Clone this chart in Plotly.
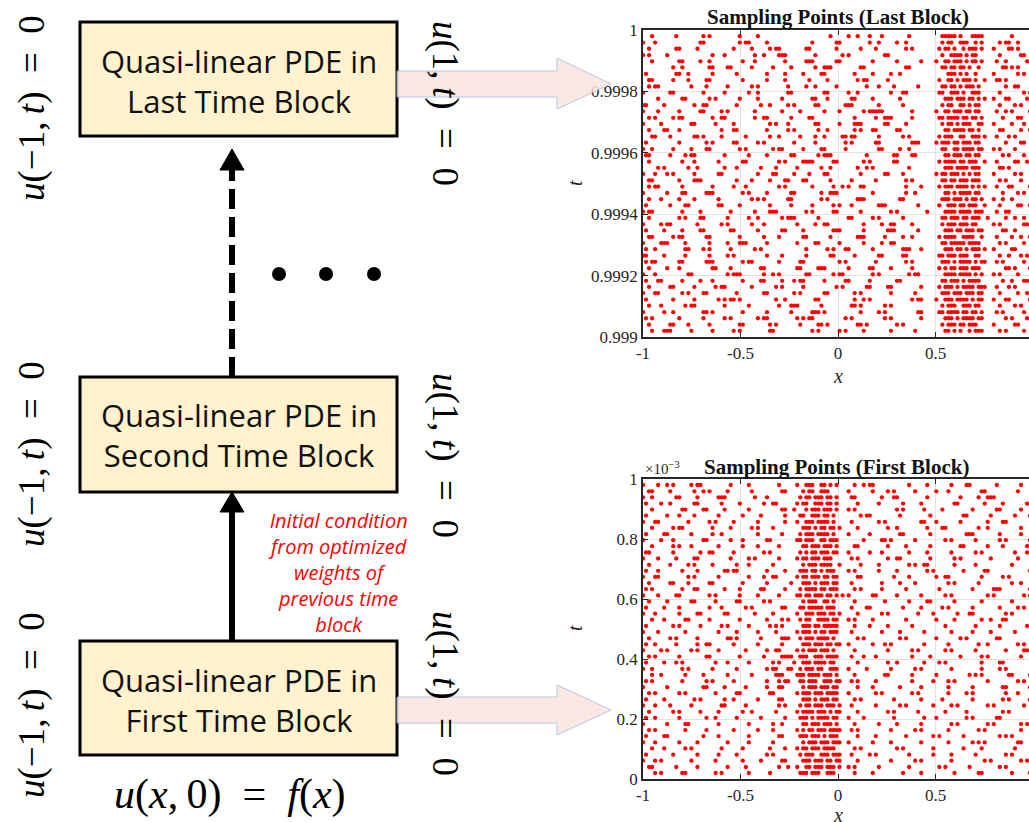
import plotly.graph_objects as go

W, H = 1029, 822

# ---------------- data ----------------
# sampling-grid row levels (top -> bottom), offset inside a block, in units of 1e-3
ROW_OFFSETS = [0.980, 0.959, 0.939, 0.918, 0.898, 0.878, 0.857, 0.837, 0.816, 0.796,
               0.776, 0.755, 0.735, 0.714, 0.694, 0.674, 0.653, 0.633, 0.612, 0.592,
               0.571, 0.551, 0.531, 0.510, 0.490, 0.469, 0.449, 0.429, 0.408, 0.388,
               0.367, 0.347, 0.326, 0.306, 0.286, 0.265, 0.245, 0.224, 0.204, 0.183,
               0.163, 0.143, 0.122, 0.102, 0.081, 0.061, 0.040, 0.020]
N_COLS = 130  # x grid columns over [-1, 1]

# Last block: row masks, split as columns 0-96 | 97-115 | 116-129
LAST_LEFT = [
"...o.......o........o.o.........o.....o.......................o.....o..o...o...o........o.......",
"o...o..............oo...........o.oo.....o..............o.......oo.........o..o.....o..o.......",
"..o........oo.....o...........o.....o.....o.oo........oo........o.......o....o.........o.o.....",
"o.o.....o..............o...o.........o..o....ooo.........o........o.o...........oo..............",
"...o........oo.....o..o..........o...o.........o......ooo.......oo..........o.......o.......o...",
"..........o..o........oo....oo......o......o.....o.......o..ooo.........oo.............oo.......",
".o.........oo..o.......o.......o.........o.....o.....o.....oo.........o.....o.....o..o..........",
"..oo......o....o.....oo..........o.......o.....o.......o.....o.........o.oo......o..............",
"..o.oo..........o....o......o.......o.o.........o.....o..o......o.........o...o....o.......o....",
"o........oo.........o......o.......o..o.........oo..........oo......o..o..........o...oo........",
".....o.......oo.......o.o.......o.....o.......o.........oo...o.......oo.....o........o..........",
"oo.....o.........o..oo.........o.......o..o.....o.o......oo........ooo........o.......o.........",
"o....o......o......oo.....o.o........o........o.....o.......o....o.......o.ooooo.........o......",
"..o.o.....o.oo.........o..oo.........o..oo.......o.....oo.............o......o..ooo......o......",
"o.....o.........oo......o.....o...........o.o...o........oo......o....ooo.......oo.....o........",
"..o....oo...o.............o...oo.........o......o.o.......o..o........o.o...oo......oo..........",
"...oo....o.......oo.o.....o.......o.......o..o......o....o..o.....oo.oo.......o.......o.o......",
".o..........o........o.o......oo......o.o.........o......o.........o.o.......oo..........ooo....",
"o..o......o.....o....oo.........o.o........o.oo......o.....oo......o..........oo.....o..o.......",
".oo......o....o.oo.........o.......o.....o.......oo.......o.ooo...........o........oo....oo.....",
"..o..........o...o.......o.......oo..........o.o.....oooo......oo........o.o.......oo...........",
".....o.o.......o..o........o...o.......o....o......o.......o..o........o..o.o...........o.......",
"o...o...o.o......o.......oo...........o....oo.....o....o....oo..........o.......oo....o.........",
"..oo........o....ooo...........o....o.....o....oo....oo.......o......o.......o.........o.o......",
"..o.oo.......o.........o......o...o..........o.o........o......o..o.o...oo.............o....o...",
"o.......o....oo......ooo.........o.o.....o.......oo........o..ooo...........o..........o..o.....",
"..o...o.....o....o.......o..........o.o.o.......oo.........o.o.........ooo...........oo.........",
".o.......o....oo.........oo.....o.........o......o......o......o.o...o........ooo..........o....",
"o.oo.........o.....o.........o.......o....ooo.........o.o......oo.......o.........o.o.........o.",
"..o.........o.o....oo.......o......o..o.......o.ooo.......o.........oo......o.o.......o.........",
"o.....o.oo........o.......o.o.......o...o..........o.....o..oo...........o.....o..oo.....o......",
".o.....o.....o.....oo........oo.......o.......oo.....o.........ooo.......o.......ooo.......o....",
"..oo......o.oo.......oo.........o.......o....o.......oo.......o........ooo......o.....o..o......",
"o.....ooo.....o.......o.....o...ooo......o.........o.....oo......o.......o.....o..oo...........",
".o..o.........oo....o.o......o.......o.o..............o......o.o...oo.......o.........ooo...o...",
"oo.....o......o.......o.....o.o..........o....o.......o.......oo......o.......oo......oo........",
".o.oo.......oo.......ooo.........o.oo........o......oo...........o.o.........o.........o.o.....",
"..o.....o...o..........oo....o.........oo..........oo.....ooo.......o......oo.....o......o......",
"o...o..........oo...........o.ooo.......o..o.o........oo.......o.oo.........o.o.........o.oo....",
".o...oo......o.....o...o.........o.....oo.....o...o.oo......o......oo......o........oo.........",
"..o......oo......o......o.oo........o.......o.o......o..........o.o.......oo.....oo.........o...",
"o...oo.......o.o....oo.........o........oo........o.o.......oo........o.o.........o.......o.....",
".o........o......o.......o.o.oo.o...........o..o.........oo...........o..o.o.............o.oo...",
"..o...o.......o.oo.........o.......o.........o...ooo.......o.........oo.o.......o.o..............",
"o......o..o.........oo.o.........o.......o.......o......ooo.o...........o.....o.o..........oo...",
".o.o........o.......o......o.o........o.oo.........o.o.oo..........o.o..........o.o.........o...",
"..o......oo....o......o.........oo........o.o.......o.....oo.o.........oo.o.........o.o.........",
"...o...ooo......o......o......o.o.........oo............o.o......o.o.....o........o.......o.....",
]
LAST_BAND = [
"..ooooo.o...oooo...", "..o.oo..ooo..o.o...", ".o.oo.o..o.ooo.o...", "..o..oooo.o.oo.....",
"o..oo.ooo.o.oo.o...", "..oo.oo.oo.o..o....", "....ooo.o.o..o.....", ".o..oo.o.ooo.o..o..",
"..oo.oo.o.ooo.o....", ".oo..ooo.o..ooo....", "...ooo.ooo.oo.o.o..", "..o.oo..oo.o.oo....",
"o..oo.ooo.oo.oo....", ".oo.oooo.oo.oo.o...", "..o.oo.o.ooo..oo...", "...oo.oooo.oo.o....",
".o.ooo..oo..ooo.o..", "o.ooo.oo.ooo.oo....", "..oo..oo.oooo.oo...", "...oo.ooo.oo.oo....",
".o.oooo.oo.ooo..o..", "...ooo.oooo.ooo....", "o.oo.ooo.o.o.oo....", "..oo.oo.ooo.ooo....",
".o.ooo.oooo.o.o.o..", "...oo.o.oooo.oo....", "..ooo.ooo.o.oo.o...", ".o..ooo.oo.ooo..o..",
"...oooo.oooo.ooo...", "..oo.ooo.oo.ooo..o.", "..o.ooo.ooo.oo.....", "...ooo.oo.ooo.oo...",
".o.oooo..oooo..o...", "..oo.ooooo.oooo....", "...ooo.oo.o.ooo.o..", ".oo.ooo.ooo..oo....",
"..ooo.o.oooo.o.oo..", ".o.o.oo.ooo.ooo....", "...oooo.oooo.o.o...", "..oo.ooo.o.oooo....",
".o.ooo.o.oooo.ooo..", "..ooo.ooo.ooo.oo...", "o..ooo.oooo.o.oo...", "..o.ooo..ooo.oo....",
".oo.oooo.oo.oo.o...", "...ooo.o.oooo.oo...", "..o.ooo.oo.ooo.....", "...oo.o.o..o.ooo...",
]
LAST_RIGHT = [
"......o.......", "..o.oo..o.....", "o....oo.o.....", "..o......oo...", ".o..o......o..", "...oo.o.o.....",
"o.......o.o...", ".oo.o........o", "....o..oo.....", "..o.......o.o.", "o...oo.....o..", "..o....o.o....",
".o..o.o.....o.", "...o....oo....", "o.....o...o...", "..oo.....o..o.", ".o...o.o......", "....o....oo..o",
"o.o....o......", "...o.o....o...", ".o.....oo..o..", "..oo.o........", "o......o.o...o", "..o.o....o....",
".o...oo.....o.", "...o....o.o...", "o..o..o.......", "..o.....oo..o.", ".o..oo........", "....o..o..o...",
"o.o.......oo..", "...oo..o......", ".o....o..o..o.", "..o.o.....o...", "o.....oo......", "..o..o...o.o..",
".o.o......o...", "....oo.o....o.", "o.o.....o.....", "...o..o...oo..", ".o...o.o......", "..o.....o..o..",
"o...oo......o.", "..o....o.o....", ".o.o......o...", "....o.o....o..", "o......oo.....", "..o.o.....o...",
]

# First block: row masks, split as columns 0-49 | 50-67 | 68-129
FIRST_LEFT = [
"o....o..o.o.....o.oo.........o.....o.........o.....", "..oo.....o.......o..o.o.....o.......o.........oo...",
"o..o.......oo.....o......ooo.........o...o.........", ".o....o..o.......oo.......o.....o.......o..oo......",
"...o.........oo.....oo.....o.......o..........oo...", ".o......o...o....o.......o.......o.....o.......o...",
"o...oo.........o......o.o.....o.......o........o...", "...o......o.oo.........o.....o......o.o....o.......",
".o.....oo.......o......o..o...........o.......o....", "o.....o...o.........oo.......o...o.......oo........",
"...o......o.o...o........o.......o....o......o.....", ".oo.......o........o..oo......o.........o.o........",
"o....o.....o.....oo..........o.....o.o.......o.....", "..o......o.....o.o.....o.......o...o.......o.......",
".o...o.......o....o........oo.oo.........o.....o...", "o...oo.........o.o.......o.........o....o..oo......",
"..o......oo....o......oo.........o.......o.......o.", ".o.o.........o...oo........o....o......oo......o...",
"o....o.....oo.........o.o.......o.....o......o.....", "..o.....o.......oo......o......oo.......o.o........",
".o.....o....o.........o...o.......o.o.........oo...", "o...o.......o.....oo.......oo........o.....o.......",
"...o...o......oo......o.........o........o....o.o..", ".o........o.o......o......o.o......o......o.o.o....",
"o....o........o..........o.....o......o.....o......", "..o......o.o......o.........oo.o.......o......ooo...",
".o..o......o......o..oo.......o.......o.......o.....", "o.....o.o.......o.o......o........o......o..oo......",
"..o.o.......o........oo.........o.......o.....oooo..", ".o.....o...o.o..........o...o......o.......o.o......",
"o..o.........o.o.......o.......o.........o.oo...oo..", "...o..o.......o.....o.......o.......o.......ooo....o",
".o.o.........o.......o.o......o..........o...o.oo...", "o.......o...........oo.....o......o......o...oo....o",
"..o.o.......o.o.........o......oo.........oo.......", ".o.....o.........o.o.......o..o.......o......oo....",
"o...o....o......o.........oo......o..........o.o...", "..o.......o.o......o.....o.......o..o.......o......",
".o..o.......o........o..o......o.......o.......o...", "o.......o.....oo.........o.........o.......o..o....",
"..o.o.........o......o........o.......o....o.......", ".o.....oo...........o....o.........o.........oo....",
"o...o.......o.....o.........o......o.......o.......o", "...o...o......o.o.........o......o........o....o...",
".o........o.......o......o.....o.........o.o.......", "o...o.o.........o.......o........o.....o......oo...",
"..oo.......o......o.........o.....o..........o..o..", "....o.o......oo.........o.o........o......o.......o",
]
FIRST_BAND = [
".o..ooo..oo.o.o...", "...o.oo..ooo......", "..o.oo.ooo.oo.o...", ".o.oo..ooo.oo.o...",
"o...o.ooo.ooo.o...", "..oo..ooo.oo.o....", ".o..ooo.oooo.o....", "...ooo.o.oo.oo.o..",
"..o.ooo.oooo.o....", ".oo.ooo..oo.ooo...", "...oo.ooo.ooo.o...", "..o.o.oo.ooo.oo...",
".o.oo.ooo.ooo.....", "...o.ooo.oooo..o..", "..ooo.oo.o.ooo....", ".o.oo.ooo.oo.oo...",
"...ooo.o.ooo.oo...", "..o.oooo.oo.ooo...", ".oo.oo.ooo.oo.o.o.", "...o.ooo..oo.o....",
"..oo.ooooo.ooo....", ".o..ooo.ooo.oo.o..", "..o.oo..oooo.oo...", "...ooo.oo.ooooo...",
".o.ooo.o.oo.ooo...", "..o.ooo.oooo.o....", "...ooo.ooo.oo.oo..", ".o.o.ooo.ooo.o....",
"..ooo..ooo.oooo...", "o..ooo.oooo.oo....", "..o.ooo.oo..ooo...", ".ooo.oooo.ooo.o...",
"..oo.ooo..ooo.oo..", "...o.ooo.ooo.oo...", ".o.ooo.ooo.oooo...", "...ooo.o.ooo.oo...",
"..o.oo.ooo.ooo.o..", ".o.oooo.ooo.o.oo..", "..ooo.o.oooo.oo...", "...oo.ooo.ooo.o...",
".o.o.oo.ooo.oooo..", "..ooo.ooo.o.ooo...", "...o.ooo.ooo.ooo..", ".o.oo.ooo.oooo....",
"..o.ooo..ooo.ooo..", "...ooo.ooo.oo.oo..", ".o..oo.ooo.ooo.o..", "..ooo.ooo..ooo....",
]
FIRST_RIGHT = [
"..o..o.oo...........o.....o.......o....oo........o.......o.....",
"o.......o....o.o......o......o...o..........oo..........o.......",
".oo........o...oo.........o..........o.....o..ooo..............",
"...o......o.......o.....o..........oo........o.....o.......o....",
"o.o.............o.o......o.....o.........o.......oo......o......",
"....o.oo.........o.........o..........oo.......o.......o....oo..",
".o........o.o...........oo...o.......o........o....oo..........",
"...o.........o..o.........o....oo..........o..o..........o.....",
"o......o.........oo........o...........ooo........o......o......o",
".....o.....oo.o.......o.........o.o.......o.......o.o.......o....",
"..oo.........o.....o.......o.........oo.......o....o.......oo....",
"o......o...o........o.....o.......o.......o.o..........o...o.oo..",
".o.o.........o..oo.........o.......o.o.........o........o........",
"....o.....o.........o.o..oo........o......o...........o......o.o.",
"o.o.......o.....o.........o.o.........o......oo.............o....o",
"...oo..........o....o........o..oo..........o......o.o.........o.",
".o.........o.....o....o..........o.o.......o..........o..o......",
"..o.o......o.......o..........o..........o......ooo.........o....",
"o.......oo......o.......o.......o.o...........o.o.........o.oo...",
"..o.........o.......o.....oo.......o........o.........o.......o..o",
".o....oo..........o.....o......o.o.......o........o.....o.o......",
"...o.......o.o.........o....o.......o...oo..........o.o.........o",
"o.o.....o..........o.........o.....o........o..o...oo........o...",
"..o....o.....o.......o..........o.........o.......o........o..o..",
".o.........o.....o.......o........o......o.....o.......o.......o.o",
"...o.o...........o.o.........o.......o.o.........oo............o..",
"o.......o...o.o..........o.......o.........o..o.........o.o.......",
"..o..........o.......o.o........o.o.......o.........o.....oo.o....",
".o...o...o...........o.....o.........o......o.o..........o........",
"...o.........o..o........o....o.o...........o.....oo.........o....",
"o.....o.......o.......o.o.........o.........o.....o.o..........o..",
"..o.........oo.......o.......o..........o.o.o........oo.....o......",
".o.o.....o...........o......o....o.o..........o.........o.o.......",
"...o....o........o......o........o.......o.........oo.......o....o",
"o........o.o.........o.o.........o.....o.o..........o...o.........",
"..o.o..........o........o......o.........o.........o.o......o..o..",
".o.......o.......o.o........o.....o.o.........o.o.........o.......",
"...o.........o.o.......o........o......o...........o.o.......o.o..",
"o....o.........o.........o...o.........o.o.......oo..........o....",
"..o.......o.....o.......o.........o.o.........o.o........o.o......",
".o.o..........o.......o.o........o.........o.o...........o.....o..",
"...o.....o.........o........o.o.......o...........o.o.o......o....",
"o.......o.....o.........o........o.......o.o.o..........oo.......o",
"..o.o...........o.o.........o.........o.....o..........o.....o....",
".o.....o.o..........o.......o.....o.......o.........o.o........o..",
"...o..........o.......o.o.........o..........o.o.........o.o......",
"o.o.......o.........o.........o.o.......o.........o.o.........o....",
"..o.....o.........o.....o..........o.......oo.........o.....o...o.",
]

LAST_Y_TICKS = [0.999, 0.9992, 0.9994, 0.9996, 0.9998, 1.0]
LAST_Y_LABELS = ["0.999", "0.9992", "0.9994", "0.9996", "0.9998", "1"]
FIRST_Y_TICKS = [0, 0.2, 0.4, 0.6, 0.8, 1.0]
FIRST_Y_LABELS = ["0", "0.2", "0.4", "0.6", "0.8", "1"]
X_TICKS = [-1, -0.5, 0, 0.5, 1]
X_LABELS = ["-1", "-0.5", "0", "0.5", "1"]


def mask_points(lefts, bands, rights, widths, base, scale):
    xs, ys = [], []
    for k, off in enumerate(ROW_OFFSETS):
        row = (lefts[k].ljust(widths[0], '.')[:widths[0]] +
               bands[k].ljust(widths[1], '.')[:widths[1]] +
               rights[k].ljust(widths[2], '.')[:widths[2]])
        for j, ch in enumerate(row):
            if ch == 'o':
                xs.append(-1 + 2 * j / (N_COLS - 1))
                ys.append(base + off * scale)
    return xs, ys


xl, yl = mask_points(LAST_LEFT, LAST_BAND, LAST_RIGHT, (97, 19, 14), 0.999, 1e-3)
xf, yf = mask_points(FIRST_LEFT, FIRST_BAND, FIRST_RIGHT, (50, 18, 62), 0.0, 1.0)

# ---------------- figure ----------------
def px(x):
    return x / W


def py(y):
    return 1 - y / H


fig = go.Figure()
mk = dict(color='#ff0000', size=4.3, line=dict(width=0))
fig.add_trace(go.Scatter(x=xl, y=yl, mode='markers', marker=mk, xaxis='x', yaxis='y',
                         showlegend=False, hoverinfo='skip'))
fig.add_trace(go.Scatter(x=xf, y=yf, mode='markers', marker=mk, xaxis='x2', yaxis='y2',
                         showlegend=False, hoverinfo='skip'))

SERIF = 'Liberation Serif'
axc = dict(showline=True, linecolor='#262626', linewidth=1.5, ticks='inside', ticklen=5,
           tickcolor='#262626', tickwidth=1, showgrid=True, gridcolor='#e2e2e2', gridwidth=1,
           zeroline=False, tickfont=dict(family=SERIF, size=17, color='#262626'),
           fixedrange=True, automargin=False)

x_right = 0.979
fig.update_layout(
    template='none',
    width=W, height=H, autosize=False,
    margin=dict(l=0, r=0, t=0, b=0, pad=0),
    paper_bgcolor='white', plot_bgcolor='white',
    xaxis=dict(axc, domain=[px(643), 1.0], range=[-1, x_right], anchor='y',
               tickvals=X_TICKS, ticktext=X_LABELS, mirror='ticks'),
    yaxis=dict(axc, domain=[py(337), py(30)], range=[0.999, 1.0], anchor='x',
               tickvals=LAST_Y_TICKS, ticktext=LAST_Y_LABELS, mirror=False),
    xaxis2=dict(axc, domain=[px(643), 1.0], range=[-1, x_right], anchor='y2',
                tickvals=X_TICKS, ticktext=X_LABELS, mirror='ticks'),
    yaxis2=dict(axc, domain=[py(779), py(479)], range=[0, 1.0], anchor='x2',
                tickvals=FIRST_Y_TICKS, ticktext=FIRST_Y_LABELS, mirror=False),
)

shapes = []
BOX_FILL = '#fff2cc'
for (y0, y1) in [(22, 136), (377, 492), (641, 755)]:
    shapes.append(dict(type='rect', xref='paper', yref='paper', x0=px(80), x1=px(397),
                       y0=py(y1), y1=py(y0), fillcolor=BOX_FILL,
                       line=dict(color='black', width=3), layer='above'))

# solid arrow (first -> second)
shapes.append(dict(type='line', xref='paper', yref='paper', x0=px(232), x1=px(232),
                   y0=py(641), y1=py(510), line=dict(color='black', width=6)))
shapes.append(dict(type='path', xref='paper', yref='paper',
                   path=f"M {px(220)} {py(512)} L {px(244)} {py(512)} L {px(232)} {py(492)} Z",
                   fillcolor='black', line=dict(color='black', width=1)))
# dashed arrow (second -> last)
shapes.append(dict(type='line', xref='paper', yref='paper', x0=px(232), x1=px(232),
                   y0=py(377), y1=py(168), line=dict(color='black', width=6, dash='20px,8px')))
shapes.append(dict(type='path', xref='paper', yref='paper',
                   path=f"M {px(220)} {py(170)} L {px(244)} {py(170)} L {px(232)} {py(149)} Z",
                   fillcolor='black', line=dict(color='black', width=1)))
# ellipsis dots
for cx in (279, 326, 374):
    shapes.append(dict(type='circle', xref='paper', yref='paper', x0=px(cx - 7), x1=px(cx + 7),
                       y0=py(274 + 7), y1=py(274 - 7), fillcolor='black', line=dict(width=0)))
# block arrows
for (s0, s1, h0, h1, tip) in [(71, 97, 58, 109, 84), (697, 723, 685, 735, 710)]:
    path = (f"M {px(397)} {py(s0)} L {px(557)} {py(s0)} L {px(557)} {py(h0)} "
            f"L {px(611)} {py(tip)} L {px(557)} {py(h1)} L {px(557)} {py(s1)} "
            f"L {px(397)} {py(s1)} Z")
    shapes.append(dict(type='path', xref='paper', yref='paper', path=path,
                       fillcolor='#fbe4de', opacity=0.85,
                       line=dict(color='#a8bde2', width=1), layer='above'))
fig.update_layout(shapes=shapes)

annots = []


def ann(text, x, y, size, family, color='black', angle=0):
    annots.append(dict(text=text, x=px(x), y=py(y), xref='paper', yref='paper',
                       showarrow=False, textangle=angle, xanchor='center', yanchor='middle',
                       font=dict(size=size, family=family, color=color)))


SANS = 'Open Sans'
BOX_TEXTS = ['Quasi-linear PDE in<br>Last Time Block',
             'Quasi-linear PDE in<br>Second Time Block',
             'Quasi-linear PDE in<br>First Time Block']
for txt, y in zip(BOX_TEXTS, (81, 435, 700)):
    ann(txt, 239, y, 31, SANS, '#111111')

ann('<i>Initial condition<br>from optimized<br>weights of<br>previous time<br>block</i>',
    338, 572, 20, SANS, '#ff0000')

left_lbl = '<i>u</i>(\u22121,\u2009<i>t</i>)\u2002=\u20020'
right_lbl = '<i>u</i>(1,\u2009<i>t</i>)\u2002=\u20020'
for y in (108, 454, 705):
    ann(left_lbl, 32, y, 37, SERIF, 'black', -90)
for y in (103, 455, 693):
    ann(right_lbl, 445, y, 37, SERIF, 'black', 90)
ann('<i>u</i>(<i>x</i>,\u20090)\u2002=\u2002<i>f</i>(<i>x</i>)', 230, 794, 42, SERIF)

ann('<b>Sampling Points (Last Block)</b>', 838, 17, 21, SERIF, '#111111')
ann('<b>Sampling Points (First Block)</b>', 836, 467, 21, SERIF, '#111111')
ann('<i>x</i>', 838, 376, 20, SERIF, '#262626')
ann('<i>x</i>', 838, 815, 20, SERIF, '#262626')
ann('<i>t</i>', 575, 183, 20, SERIF, '#262626', -90)
ann('<i>t</i>', 575, 628, 20, SERIF, '#262626', -90)
annots.append(dict(text='\u00d710<sup>\u22123</sup>', x=px(643), y=py(468), xref='paper',
                   yref='paper', showarrow=False, xanchor='left', yanchor='middle',
                   font=dict(size=15, family=SERIF, color='#262626')))
fig.update_layout(annotations=annots)

fig.write_html("out.html", config={'displayModeBar': False},
               post_script="document.body.style.margin='0';document.body.style.overflow='hidden';")
